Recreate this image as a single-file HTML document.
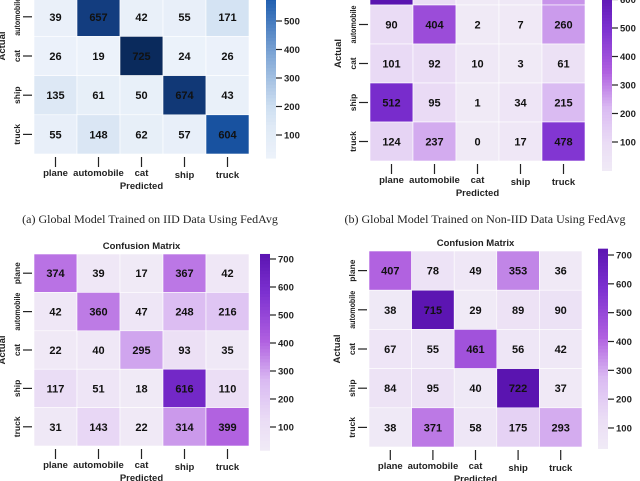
<!DOCTYPE html>
<html><head><meta charset="utf-8"><style>
html,body{margin:0;padding:0;background:#fff;}
svg{display:block;font-family:"Liberation Sans",sans-serif;}
.v{font-size:11px;font-weight:bold;fill:#111;}
.t{font-size:9.5px;font-weight:bold;fill:#222;}
.yt{font-size:8.5px;font-weight:bold;fill:#222;}
.cap{font-family:"Liberation Serif",serif;font-size:12px;fill:#222;}
</style></head><body>
<svg id="s" width="640" height="481" viewBox="0 0 640 481" xmlns="http://www.w3.org/2000/svg">
<text class="cap" x="150" y="223" text-anchor="middle">(a) Global Model Trained on IID Data Using FedAvg</text>
<text class="cap" x="485" y="223" text-anchor="middle">(b) Global Model Trained on Non-IID Data Using FedAvg</text>
</svg>
<script>
const classes = ['plane','automobile','cat','ship','truck'];
const valuesA = [[800,30,20,40,60],[39,657,42,55,171],[26,19,725,24,26],[135,61,50,674,43],[55,148,62,57,604]];
const valuesB = [[620,90,3,12,270],[90,404,2,7,260],[101,92,10,3,61],[512,95,1,34,215],[124,237,0,17,478]];
const valuesC = [[374,39,17,367,42],[42,360,47,248,216],[22,40,295,93,35],[117,51,18,616,110],[31,143,22,314,399]];
const valuesD = [[407,78,49,353,36],[38,715,29,89,90],[67,55,461,56,42],[84,95,40,722,37],[38,371,58,175,293]];
const ticksA = [100,200,300,400,500];
const ticksB = [100,200,300,400,500,600];
const ticksC = [100,200,300,400,500,600,700];
const ticksD = [100,200,300,400,500,600,700];

const NS='http://www.w3.org/2000/svg';
const svg=document.getElementById('s');
const blues=[[0,[236,242,250]],[0.15,[224,234,246]],[0.25,[206,223,241]],[0.5,[130,168,214]],[0.8,[26,90,173]],[0.9,[19,62,128]],[1,[10,42,92]]];
const purples=[[0,[240,234,246]],[0.15,[234,220,245]],[0.35,[218,186,242]],[0.55,[176,96,224]],[0.8,[124,48,208]],[1,[90,20,176]]];
function cmap(st,t){t=Math.max(0,Math.min(1,t));for(let i=1;i<st.length;i++){if(t<=st[i][0]){const a=st[i-1],b=st[i],f=(t-a[0])/(b[0]-a[0]);return 'rgb('+a[1].map((c,k)=>Math.round(c+(b[1][k]-c)*f)).join(',')+')';}}return 'rgb('+st[st.length-1][1].join(',')+')';}
function mk(tag,attrs,txt){const e=document.createElementNS(NS,tag);for(const k in attrs)e.setAttribute(k,attrs[k]);if(txt!==undefined)e.textContent=txt;svg.appendChild(e);return e;}

function heatmap(p){
  const cw=(p.x1-p.x0)/5, ch=(p.y1-p.y0)/5;
  const xs=c=>p.x0+c*cw, ys=r=>p.y0+r*ch;
  const col=v=>cmap(p.cm,(v-p.vmin)/(p.vmax-p.vmin));
  p.vals.forEach((row,r)=>row.forEach((v,c)=>{
    const rc=mk('rect',{x:xs(c),y:ys(r),width:cw,height:ch,fill:col(v),stroke:'#fff','stroke-width':0.6});
    
    
    const t=mk('text',{x:xs(c)+cw/2,y:ys(r)+ch/2+4,'text-anchor':'middle',class:'v'},v);
    
    
  }));
  classes.forEach((n,i)=>{
    const cx=xs(i)+cw/2;
    mk('line',{x1:cx,x2:cx,y1:p.y1+3,y2:p.y1+13,stroke:'#222','stroke-width':1.2});
    const t=mk('text',{x:cx,y:p.y1+(n==='ship'||n==='truck'?24:22),'text-anchor':'middle',class:'t'},n);
    
    
    const cy=ys(i)+ch/2;
    if(cy>-20){
      mk('line',{x1:p.x0-11,x2:p.x0-2,y1:cy,y2:cy,stroke:'#222','stroke-width':1.2});
      const attrs={x:p.x0-14,y:cy,'text-anchor':'middle',class:'yt',transform:'rotate(-90 '+(p.x0-14)+' '+cy+')'};
      if(n==='automobile'){attrs.textLength=38;attrs.lengthAdjust='spacingAndGlyphs';}
      const yt=mk('text',attrs,n);
      
      
    }
  });
  const px=mk('text',{x:(p.x0+p.x1)/2,y:p.y1+35,'text-anchor':'middle',class:'t'},'Predicted');
  
  
  const ay=(p.y0+p.y1)/2+ (p.y0<0?-10:0);
  const yl=mk('text',{x:p.x0-29,y:ay,'text-anchor':'middle',class:'t',transform:'rotate(-90 '+(p.x0-29)+' '+ay+')'},'Actual');
  
  
  if(p.title){const tt=mk('text',{x:(p.x0+p.x1)/2,y:p.y0-5,'text-anchor':'middle',class:'t'},'Confusion Matrix');
    
    }
  const cy=v=>p.cb0+(v-p.vmin)*(p.cbv1-p.cb0)/(p.vmax-p.vmin);
  const n=60;
  for(let i=0;i<n;i++){
    const v=p.vmin+(p.vmax-p.vmin)*i/n, y2=cy(v), y1=cy(p.vmin+(p.vmax-p.vmin)*(i+1)/n);
    const r=mk('rect',{x:p.cbx,y:y1,width:10,height:y2-y1+0.5,fill:col(v)});
    
    
  }
  p.ticks.forEach(tv=>{
    const y=cy(tv);
    mk('line',{x1:p.cbx+10,x2:p.cbx+16,y1:y,y2:y,stroke:'#222','stroke-width':1.2});
    const t=mk('text',{x:p.cbx+18,y:y+3.5,class:'t'},tv);
    
    
  });
}
heatmap({id:'a',vals:valuesA,ticks:ticksA,cm:blues,x0:34,x1:249,y0:-42,y1:154,vmin:19,vmax:725,cbx:266,cb0:135+(100-19)*0.285,cbv1:21-(725-500)*0.285});
heatmap({id:'b',vals:valuesB,ticks:ticksB,cm:purples,x0:370,x1:585,y0:-34,y1:161,vmin:0,vmax:620,cbx:602,cb0:142+100*0.285,cbv1:28-120*0.285});
heatmap({id:'c',vals:valuesC,ticks:ticksC,cm:purples,x0:34,x1:249,y0:254,y1:446,vmin:17,vmax:718,cbx:260,cb0:427+83*0.28,cbv1:259-18*0.28,title:true});
heatmap({id:'d',vals:valuesD,ticks:ticksD,cm:purples,x0:369,x1:582,y0:251,y1:447,vmin:29,vmax:722,cbx:598,cb0:428+71*0.288,cbv1:255-22*0.288,title:true});
</script>
</body></html>
